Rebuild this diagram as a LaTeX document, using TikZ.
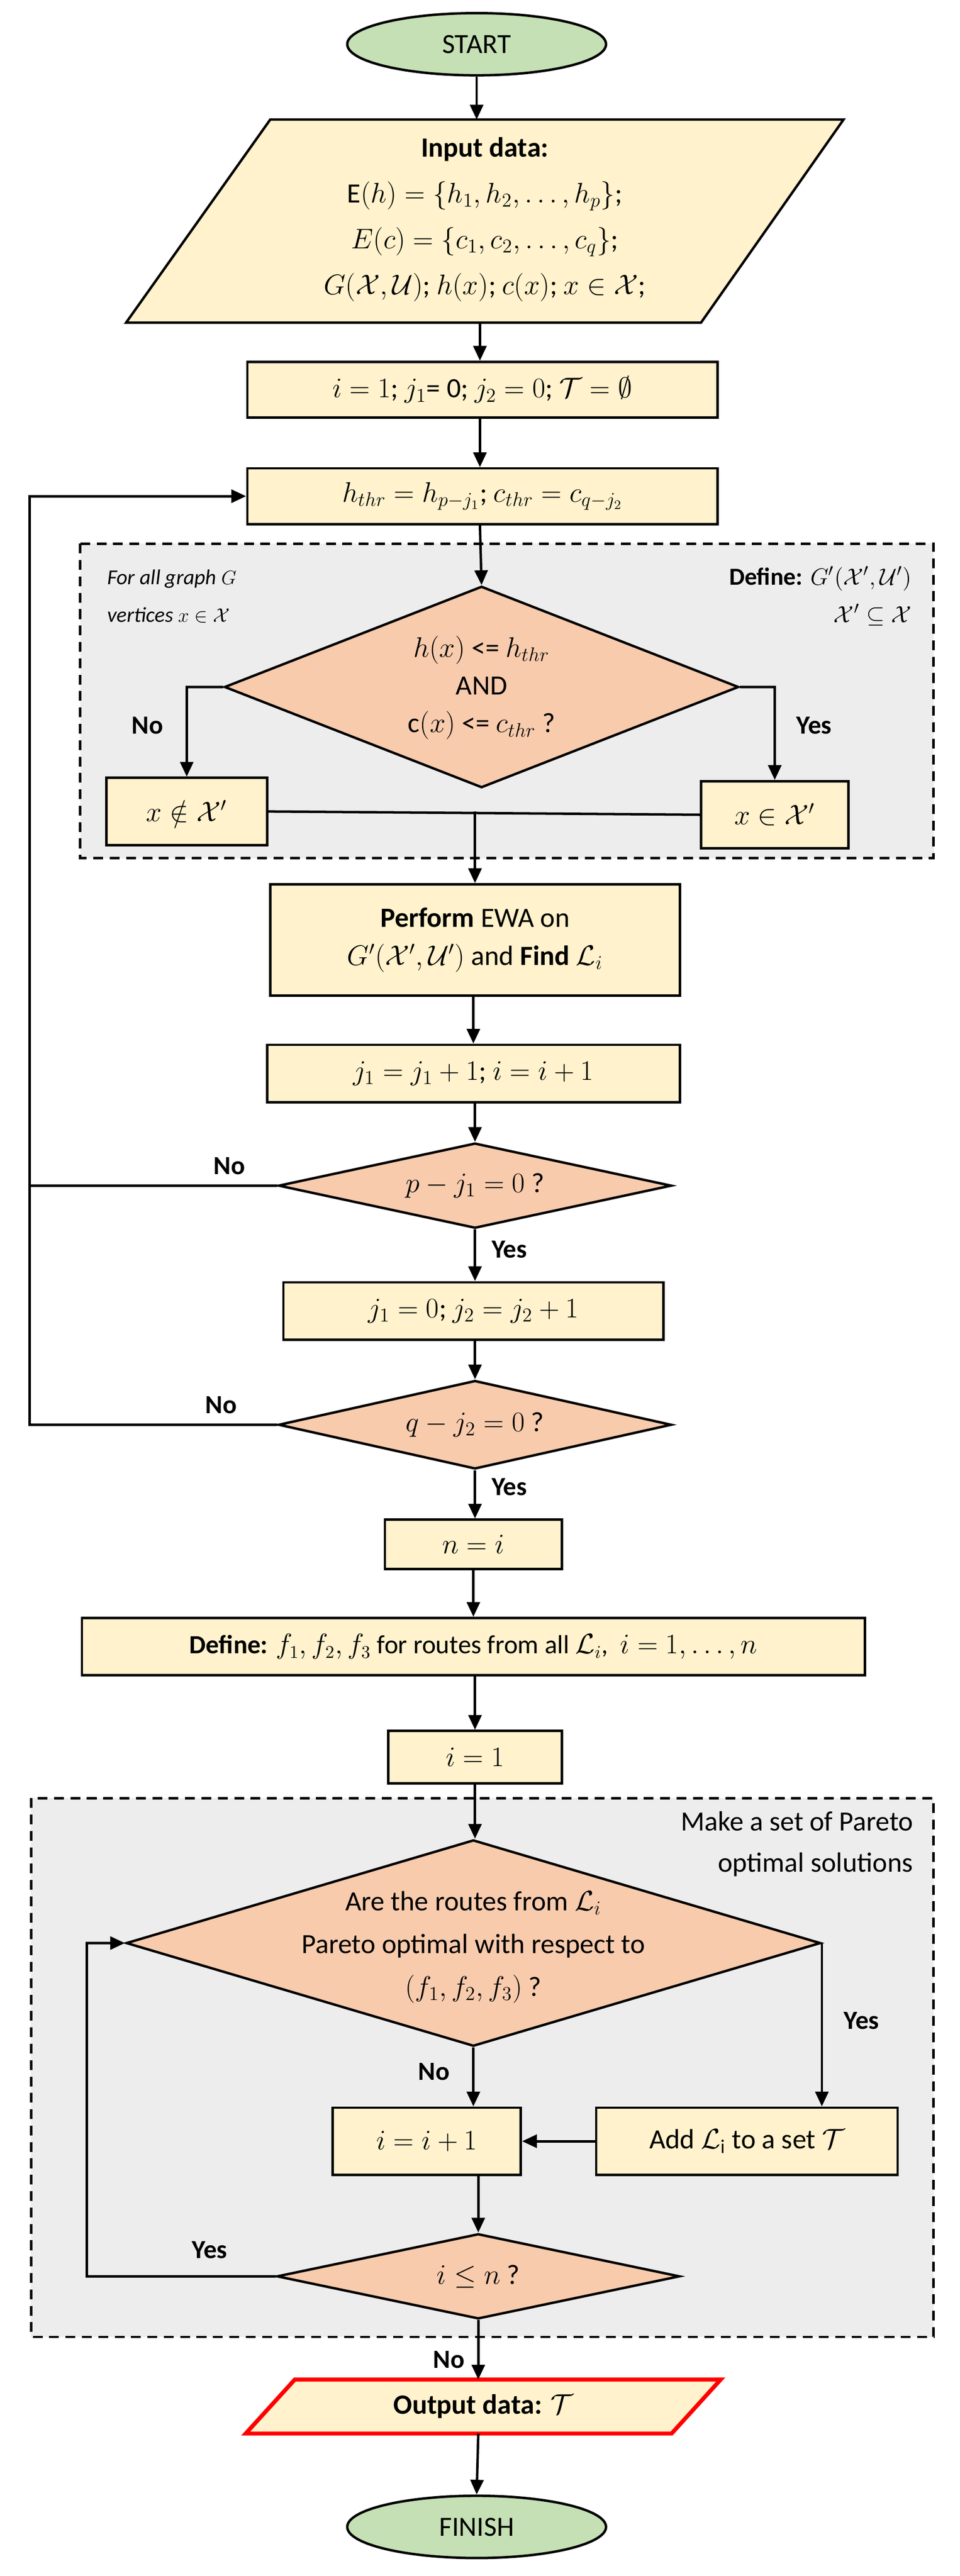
\documentclass[tikz,border=0pt]{standalone}
\usepackage{fontspec}
\setmainfont{Carlito}
\usepackage{amsmath,amssymb}
\usetikzlibrary{shapes.geometric,arrows.meta}
\definecolor{boxc}{HTML}{FFF2CC}
\definecolor{decc}{HTML}{F8CBAD}
\definecolor{termc}{HTML}{C5E0B4}
\definecolor{regc}{HTML}{EDEDED}
\begin{document}
\begin{tikzpicture}[x=1pt,y=-1pt,
  font=\fontsize{17}{20}\selectfont,
  lw/.style={line width=1.5pt},
  box/.style={draw,lw,fill=boxc,inner sep=0pt,align=center},
  dec/.style={draw,lw,fill=decc,diamond,inner sep=0pt},
  term/.style={draw,lw,fill=termc,ellipse,inner sep=0pt},
  region/.style={draw,lw,dashed,dash pattern=on 6pt off 4pt,fill=regc},
  arr/.style={lw,-{Triangle[length=9pt,width=8pt]}},
  ln/.style={lw},
  lab/.style={font=\fontsize{16}{18}\selectfont\bfseries}]
\useasboundingbox (0,0) rectangle (586,1573);
% regions
\path[region] (49,332) rectangle (570,524);
\path[region] (19,1098) rectangle (570,1427);
\coordinate (L) at (18,0);
% start
\node[term,minimum width=158pt,minimum height=38pt] (start) at (291,27) {START};
% input
\draw[lw,fill=boxc] (165,73) -- (515,73) -- (428,197) -- (77,197) -- cycle;
\coordinate (inT) at (293,73);
\coordinate (inB) at (293,197);
\node[align=center,font=\fontsize{17}{28}\selectfont] (inp) at (296,134) {\textbf{Input data:}\\
$\mathrm{E}(h)=\{h_1,h_2,\dots,h_p\}$;\\
$E(c)=\{c_1,c_2,\dots,c_q\}$;\\
$G(\mathcal{X},\mathcal{U})$;\ $h(x)$;\ $c(x)$;\ $x\in\mathcal{X}$;};
\node[box,minimum width=287pt,minimum height=34pt] (init) at (294.5,238) {$i=1$; $j_1$= 0; $j_2=0$; $\mathcal{T}=\emptyset$};
\node[box,minimum width=287pt,minimum height=34pt] (thr) at (294.5,303) {$h_{thr}=h_{p-j_1}$; $c_{thr}=c_{q-j_2}$};
% region 1 texts
\node[anchor=west,align=left,font=\fontsize{13}{23}\selectfont\itshape] (fa) at (62,364) {For all graph $G$\\vertices $x\in\mathcal{X}$};
\node[anchor=east,align=right,font=\fontsize{15}{23}\selectfont] (dfn) at (560,364) {\textbf{Define:} $G'(\mathcal{X}',\mathcal{U}')$\\$\mathcal{X}'\subseteq\mathcal{X}$};
\node[dec,minimum width=314pt,minimum height=123pt] (d1) at (294,419.5) {};
\node[align=center,font=\fontsize{17}{23}\selectfont] (d1t) at (294,420) {$h(x)$ <= $h_{thr}$\\AND\\c$(x)$ <= $c_{thr}$ ?};
\node[box,minimum width=98pt,minimum height=41pt] (noX) at (114,495.5) {$x\notin\mathcal{X}'$};
\node[box,minimum width=90pt,minimum height=41pt] (yesX) at (473,497.5) {$x\in\mathcal{X}'$};
\node[lab] (no1) at (90,443) {No};
\node[lab] (yes1) at (497,443) {Yes};
\draw[arr] (d1.west) -| (noX.north);
\draw[arr] (d1.east) -| (yesX.north);
\draw[ln] (noX.east) -- (yesX.west);
\node[box,minimum width=250pt,minimum height=68pt] (perf) at (290,574) {\textbf{Perform} EWA on\\[3pt] $G'(\mathcal{X}',\mathcal{U}')$ and \textbf{Find} $\mathcal{L}_i$};
\coordinate (J) at (perf.north |- noX.east);
\draw[arr] (J) -- (perf.north);
\node[box,minimum width=252pt,minimum height=35pt] (inc) at (289,655.5) {$j_1=j_1+1$; $i=i+1$};
\node[dec,minimum width=240pt,minimum height=52pt] (d2) at (290,724) {};
\node (d2t) at (290,724) {$p-j_1=0$ ?};
\node[box,minimum width=232pt,minimum height=35pt] (reset) at (289,800.5) {$j_1=0$; $j_2=j_2+1$};
\node[dec,minimum width=240pt,minimum height=54pt] (d3) at (290,870) {};
\node (d3t) at (290,870) {$q-j_2=0$ ?};
\node[box,minimum width=108pt,minimum height=30pt] (nn) at (289,943) {$n=i$};
\node[box,minimum width=478pt,minimum height=35pt,font=\fontsize{16}{19}\selectfont] (def) at (289,1005.5) {\textbf{Define:} $f_1,f_2,f_3$ for routes from all $\mathcal{L}_i$,\ \ $i=1,\dots,n$};
\node[box,minimum width=106pt,minimum height=32pt] (i1) at (290,1073) {$i=1$};
\node[lab] (no2) at (140,712) {No};
\node[lab] (yes2) at (311,763) {Yes};
\node[lab] (no3) at (135,858) {No};
\node[lab] (yes3) at (311,908) {Yes};
% region 2
\node[anchor=east,align=right,font=\fontsize{17}{25}\selectfont] (mk) at (561,1126) {Make a set of Pareto\\optimal solutions};
\node[dec,minimum width=424pt,minimum height=126pt] (d4) at (289,1186.5) {};
\node[align=center,font=\fontsize{17}{26}\selectfont] (d4t) at (289,1189) {Are the routes from $\mathcal{L}_i$\\Pareto optimal with respect to\\$(f_1,f_2,f_3)$ ?};
\node[box,minimum width=115pt,minimum height=41pt] (inc2) at (260.5,1307.5) {$i=i+1$};
\node[box,minimum width=184pt,minimum height=41pt] (add) at (456,1307.5) {Add $\mathcal{L}_\mathrm{i}$ to a set $\mathcal{T}$};
\node[dec,minimum width=246pt,minimum height=52pt] (d5) at (292,1390) {};
\node (d5t) at (292,1390) {$i\le n$ ?};
\node[lab] (yes4) at (526,1234) {Yes};
\node[lab] (no4) at (265,1265) {No};
\node[lab] (yes5) at (128,1374) {Yes};
\node[lab] (no5) at (274,1441) {No};
% output
\draw[line width=2.5pt,draw=red,fill=boxc] (180,1453) -- (440,1453) -- (410,1486) -- (150,1486) -- cycle;
\coordinate (outT) at (292,1453);
\coordinate (outB) at (292,1486);
\node (outt) at (295,1469.5) {\textbf{Output data:} $\mathcal{T}$};
\node[term,minimum width=158pt,minimum height=38pt] (fin) at (291,1543) {FINISH};
% connectors
\draw[arr] (start.south) -- (start.south |- inT);
\draw[arr] (inB) -- (inB |- init.north);
\draw[arr] (init.south -| inB) -- (thr.north -| inB);
\draw[arr] (thr.south -| inB) -- (d1.north);
\draw[arr] (perf.south -| inc.north) -- (inc.north);
\draw[arr] (inc.south -| d2.north) -- (d2.north);
\draw[arr] (d2.south) -- (d2.south |- reset.north);
\draw[arr] (reset.south -| d3.north) -- (d3.north);
\draw[arr] (d3.south) -- (d3.south |- nn.north);
\draw[arr] (nn.south) -- (def.north -| nn.south);
\draw[arr] (def.south -| i1.north) -- (i1.north);
\draw[arr] (i1.south) -- (d4.north -| i1.south);
\draw[arr] (d2.west) -- (d2.west -| L) |- (thr.west);
\draw[ln] (d3.west) -- (d3.west -| L) -- (d2.west -| L);
\draw[arr] (d4.south) -- (d4.south |- inc2.north);
\draw[arr] (d4.east) -- (d4.east |- add.north);
\draw[arr] (add.west) -- (inc2.east);
\draw[arr] (inc2.south -| d5.north) -- (d5.north);
\draw[arr] (d5.west) -- (53,1390) |- (d4.west);
\draw[arr] (d5.south) -- (outT);
\draw[arr] (outB) -- (fin.north);
\end{tikzpicture}
\end{document}
